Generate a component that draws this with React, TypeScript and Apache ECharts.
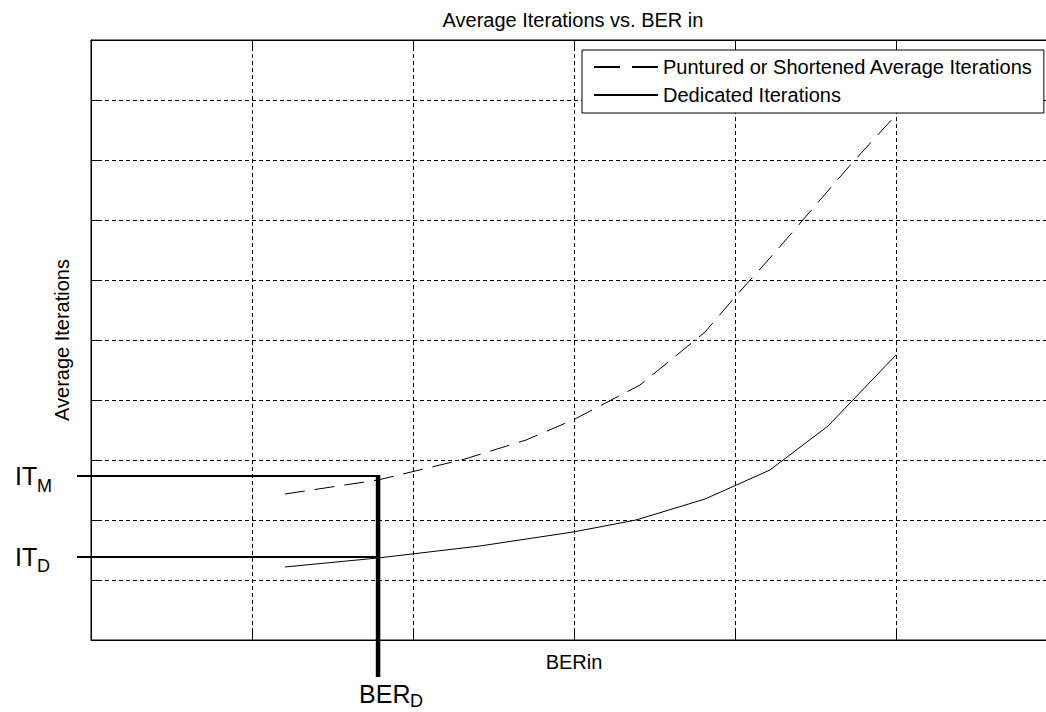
import React, { useEffect, useRef } from "react";
import * as echarts from "echarts";

// Curve data (axis has no tick labels, units are grid cells)
const punctX = [1.205, 1.783, 2.323, 2.702, 2.994, 3.41, 3.814, 4.0, 4.267, 4.528, 4.733, 5.0, 5.21];
const punctY = [2.433, 2.667, 3.017, 3.333, 3.667, 4.25, 5.133, 5.717, 6.517, 7.333, 7.967, 8.75, 9.33];
const dedX = [1.205, 1.783, 2.416, 2.994, 3.385, 3.814, 4.217, 4.578, 5.0];
const dedY = [1.217, 1.367, 1.567, 1.8, 2.0, 2.35, 2.833, 3.567, 4.75];

// Annotation values
const BER_D = 1.783;
const IT_M = 2.733;
const IT_D = 1.383;

const SERIES_NAMES = ["Puntured or Shortened Average Iterations", "Dedicated Iterations"];
const TITLE = "Average Iterations vs. BER in";
const X_NAME = "BERin";
const Y_NAME = "Average Iterations";

const X_MIN = 0, X_MAX = 6, X_INT = 1;
const Y_MIN = 0, Y_MAX = 10, Y_INT = 1;

const FONT = '"Liberation Sans", Arial, Helvetica, sans-serif';

const CHART_W = 1060;
const CHART_H = 712;

export default function App() {
  const ref = useRef<HTMLDivElement>(null);
  useEffect(() => {
    if (!ref.current) return;
    const chart = echarts.init(ref.current, undefined, { renderer: "svg" });
    const grid = { left: 91, top: 40, right: 3, bottom: 72, show: true, borderColor: "#000", borderWidth: 1, backgroundColor: "transparent" };
    const splitLine = { show: true, lineStyle: { color: "#000", width: 1, type: [4, 3] } };
    const tick = { show: true, inside: true, length: 8, lineStyle: { color: "#000", width: 1 } };
    const axisLine = { show: true, onZero: false, lineStyle: { color: "#000", width: 1 } };
    chart.setOption({
      animation: false,
      backgroundColor: "#fff",
      textStyle: { fontFamily: FONT, color: "#000" },
      title: {
        text: TITLE,
        left: 568,
        top: 5,
        textAlign: "center",
        textStyle: { fontFamily: FONT, fontSize: 20, fontWeight: "normal", color: "#000" },
      },
      grid,
      legend: {
        orient: "vertical",
        left: 582,
        top: 50,
        padding: [7, 11, 8, 11],
        itemGap: 8,
        itemWidth: 64,
        itemHeight: 14,
        backgroundColor: "#fff",
        borderColor: "#000",
        borderWidth: 1,
        itemStyle: { color: "rgba(0,0,0,0)", borderColor: "rgba(0,0,0,0)", borderWidth: 0, opacity: 0 },
        textStyle: { fontFamily: FONT, fontSize: 20, color: "#000" },
        data: [
          { name: SERIES_NAMES[0], lineStyle: { type: [26, 12] } },
          { name: SERIES_NAMES[1] },
        ],
      },
      xAxis: [
        {
          type: "value", min: X_MIN, max: X_MAX, interval: X_INT,
          name: X_NAME, nameLocation: "middle", nameGap: 12,
          nameTextStyle: { fontFamily: FONT, fontSize: 20, color: "#000" },
          axisLine, axisTick: tick, axisLabel: { show: false }, splitLine,
        },
        {
          type: "value", position: "top", min: X_MIN, max: X_MAX, interval: X_INT,
          axisLine, axisTick: tick, axisLabel: { show: false }, splitLine: { show: false },
        },
      ],
      yAxis: [
        {
          type: "value", min: Y_MIN, max: Y_MAX, interval: Y_INT,
          name: Y_NAME, nameLocation: "middle", nameGap: 19,
          nameTextStyle: { fontFamily: FONT, fontSize: 20, color: "#000" },
          axisLine, axisTick: tick, axisLabel: { show: false }, splitLine,
        },
        {
          type: "value", position: "right", min: Y_MIN, max: Y_MAX, interval: Y_INT,
          axisLine, axisTick: tick, axisLabel: { show: false }, splitLine: { show: false },
        },
      ],
      series: [
        {
          name: SERIES_NAMES[0], type: "line", symbol: "none",
          data: punctX.map((x, i) => [x, punctY[i]]),
          lineStyle: { color: "#000", width: 1, type: [20, 10] },
          itemStyle: { color: "#000" },
        },
        {
          name: SERIES_NAMES[1], type: "line", symbol: "none",
          data: dedX.map((x, i) => [x, dedY[i]]),
          lineStyle: { color: "#000", width: 1, type: "solid" },
          itemStyle: { color: "#000" },
        },
      ],
    });

    const pM = chart.convertToPixel({ gridIndex: 0 }, [BER_D, IT_M]) as number[];
    const pD = chart.convertToPixel({ gridIndex: 0 }, [BER_D, IT_D]) as number[];
    const vx = pM[0];
    const lineStart = grid.left - 14;
    const vBottom = CHART_H - grid.bottom + 37;
    const big = { fontFamily: FONT, fontSize: 25, fill: "#000", align: "left", verticalAlign: "middle" };
    const small = { fontFamily: FONT, fontSize: 18, fill: "#000", align: "left", verticalAlign: "middle" };
    chart.setOption({
      graphic: [
        { type: "line", z: 100, shape: { x1: lineStart, y1: pM[1], x2: vx, y2: pM[1] }, style: { stroke: "#000", lineWidth: 2 } },
        { type: "line", z: 100, shape: { x1: lineStart, y1: pD[1], x2: vx, y2: pD[1] }, style: { stroke: "#000", lineWidth: 2 } },
        { type: "line", z: 100, shape: { x1: vx, y1: pM[1] - 1, x2: vx, y2: vBottom }, style: { stroke: "#000", lineWidth: 4.5 } },
        { type: "text", z: 100, x: 15, y: pM[1], style: { ...big, text: "IT" } },
        { type: "text", z: 100, x: 37, y: pM[1] + 10, style: { ...small, text: "M" } },
        { type: "text", z: 100, x: 15, y: pD[1], style: { ...big, text: "IT" } },
        { type: "text", z: 100, x: 37, y: pD[1] + 9, style: { ...small, text: "D" } },
        { type: "text", z: 100, x: vx - 19, y: vBottom + 17, style: { ...big, text: "BER" } },
        { type: "text", z: 100, x: vx + 32, y: vBottom + 24, style: { ...small, text: "D" } },
      ],
    });
    return () => chart.dispose();
  }, []);
  return (
    <div style={{ position: "absolute", left: 0, top: 0, width: 1046, height: 712, overflow: "hidden" }}>
      <div ref={ref} style={{ width: CHART_W, height: CHART_H }} />
    </div>
  );
}
